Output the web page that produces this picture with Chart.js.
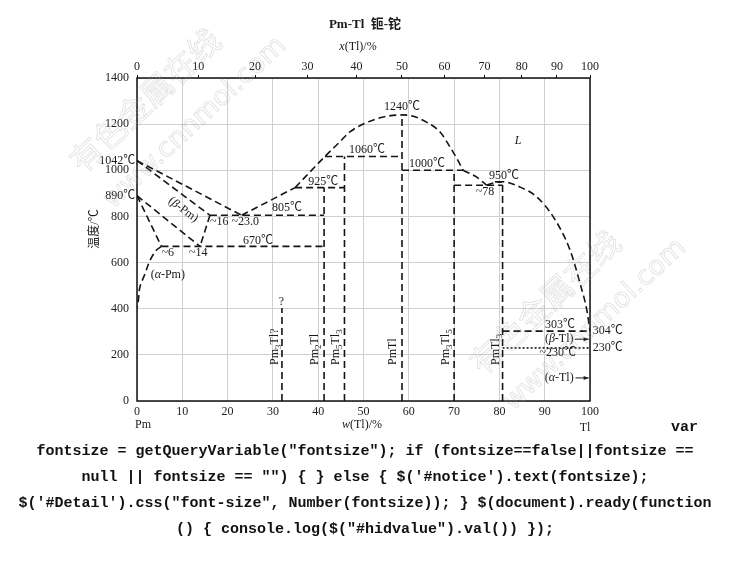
<!DOCTYPE html>
<html><head><meta charset="utf-8">
<script src="https://cdn.jsdelivr.net/npm/chart.js@4.4.1/dist/chart.umd.min.js"></script>
<style>
html,body{margin:0;padding:0;background:#fff}
body{width:730px;height:580px;position:relative;overflow:hidden}
#c{position:absolute;left:0;top:0}
.code{position:absolute;font:bold 15px 'Liberation Mono','DejaVu Sans Mono',monospace;color:#111;white-space:pre;line-height:26px}
#v{left:671px;top:415px}
#code{left:0;width:730px;top:439px;text-align:center}
</style></head><body>
<canvas id="c" width="730" height="440"></canvas>
<div class="code" id="v">var</div>
<div class="code" id="code">fontsize = getQueryVariable("fontsize"); if (fontsize==false||fontsize ==
null || fontsize == "") { } else { $('#notice').text(fontsize);
$('#Detail').css("font-size", Number(fontsize)); } $(document).ready(function
() { console.log($("#hidvalue").val()) });</div>
<script>
// ---- axes ----
const wTicks = [0,10,20,30,40,50,60,70,80,90,100];      // w(Tl)/%
const atTicks = [0,10,20,30,40,50,60,70,80,90,100];     // x(Tl)/%
const tTicks = [0,200,400,600,800,1000,1200,1400];      // °C
const massPm = 145, massTl = 204.38;
const atToW = a => 100*a*massTl/(a*massTl+(100-a)*massPm);

// ---- phase boundaries [w(Tl)%, T] ----
const liqPm      = [[0,1042],[23.1,805]];
const liqEut     = [[23.1,805],[34.9,925]];
const liqDome    = [[34.9,925],[41.5,1060],[44.4,1116],[47,1166],[50.7,1207],[54.4,1231],[58.5,1240],[61,1234],[63.9,1209],[66.9,1166],[69.1,1101],[70.6,1051],[72,1000]];
const liqMid     = [[72,1000],[75,970],[77.2,935]];
const liqTl      = [[77.2,935],[78.8,946],[80.8,950],[84.5,928],[88.2,885],[91.9,798],[95.6,654],[97.8,510],[99.3,394],[100,304]];
const betaSolidus= [[0,1042],[16.1,805]];
const betaSolvus = [[16.1,805],[13.9,670]];
const betaLow    = [[0,890],[13.9,670]];
const alphaHigh  = [[0,890],[5.4,670]];
const alphaSolvus= [[5.4,670],[4.3,654],[2.9,611],[1.8,553],[0.66,495],[0.3,437],[0,403]];
const iso805 = [[16.1,805],[41.3,805]];
const iso670 = [[5.4,670],[41.3,670]];
const iso925 = [[34.9,925],[45.8,925]];
const iso1060= [[41.5,1060],[58.5,1060]];
const iso1000= [[58.5,1000],[72,1000]];
const iso935 = [[70,935],[80.7,935]];
const cap950 = [[79,950],[80.7,950]];
const iso303 = [[80.7,303],[100,303]];
const iso230 = [[80.7,230],[100,230]];
const vPm3Tl  = [[32,0],[32,403]];
const vPm2Tl  = [[41.3,0],[41.3,925]];
const vPm5Tl3 = [[45.8,0],[45.8,1060]];
const vPmTl   = [[58.5,0],[58.5,1240]];
const vPm3Tl5 = [[70,0],[70,1000]];
const vPmTl3  = [[80.7,0],[80.7,950]];

// ---- annotations [text, w, T, align, rotation°] ----
const notes = [
 ['1042℃',-0.4,1042,'right',0],['890℃',-0.4,890,'right',0],
 ['(*β*-Pm)',10.2,829,'center',37],['~16 ~23.0',21.5,775,'center',0],
 ['805℃',33.1,836,'center',0],['670℃',26.7,693,'center',0],
 ['~6',6.8,641,'center',0],['~14',13.5,641,'center',0],['(*α*-Pm)',6.8,546,'center',0],
 ['925℃',41.1,948,'center',0],['1060℃',50.8,1087,'center',0],['1240℃',58.5,1273,'center',0],
 ['1000℃',64,1030,'center',0],['*L*',84.1,1126,'center',0],['950℃',81,974,'center',0],
 ['~78',76.8,905,'center',0],['?',31.9,429,'center',0],
 ['303℃',93.4,329,'center',0],['(*β*-Tl)',93.2,268,'center',0],['~230℃',92.9,208,'center',0],
 ['(*α*-Tl)',93.2,100,'center',0],['304℃',100.6,303,'left',0],['230℃',100.6,230,'left',0],
 ['Pm_3Tl?',30.5,156,'left',-90],['Pm_2Tl',39.3,156,'left',-90],['Pm_5Tl_3',43.9,156,'left',-90],
 ['PmTl',56.5,156,'left',-90],['Pm_3Tl_5',68.2,156,'left',-90],['PmTl_3',79.2,156,'left',-90]
];
const arrows = [[96.6,99.7,268],[96.8,99.7,100]];

const SERIF = "'Liberation Serif','Noto Sans CJK SC',serif";

function ds(pts, opt){
  return Object.assign({data:pts.map(p=>({x:p[0],y:p[1]})),showLine:true,pointRadius:0,
    borderColor:'#151515',backgroundColor:'#151515',borderWidth:1.6,borderDash:[7,4],tension:0,fill:false,
    xAxisID:'x',yAxisID:'y'}, opt||{});
}
const mono = {cubicInterpolationMode:'monotone'};
const datasets = [
  ds(liqPm), ds(liqEut), ds(liqDome,mono), ds(liqMid,mono), ds(liqTl,mono),
  ds(betaSolidus), ds(betaSolvus), ds(betaLow), ds(alphaHigh), ds(alphaSolvus,{tension:0.35}),
  ds(iso805), ds(iso670), ds(iso925), ds(iso1060), ds(iso1000), ds(iso935), ds(cap950), ds(iso303),
  ds(iso230,{borderDash:[2,2]}),
  ds(vPm3Tl), ds(vPm2Tl), ds(vPm5Tl3), ds(vPmTl), ds(vPm3Tl5), ds(vPmTl3)
];

function parseRich(s){const segs=[];let it=false;for(let i=0;i<s.length;i++){const c=s[i];
  if(c==='*'){it=!it;continue;} if(c==='_'){segs.push({t:s[++i],sub:true,it});continue;}
  segs.push({t:c,sub:false,it});}return segs;}
function fontOf(g,size,bold){return (g.it?'italic ':'')+(bold?'bold ':'')+(g.sub?Math.round(size*0.72):size)+'px '+SERIF;}
function drawRich(ctx,s,x,y,size,align,bold){
  const segs=parseRich(s);let w=0;
  segs.forEach(g=>{ctx.font=fontOf(g,size,bold);g.w=ctx.measureText(g.t).width;w+=g.w;});
  let cx=align==='center'?x-w/2:align==='right'?x-w:x;
  ctx.textAlign='left';ctx.textBaseline='middle';
  segs.forEach(g=>{ctx.font=fontOf(g,size,bold);ctx.fillText(g.t,cx,y+(g.sub?size*0.3:0));cx+=g.w;});
}

const deco = {
  id:'deco',
  afterDatasetsDraw(chart){
    const ctx=chart.ctx, a=chart.chartArea, X=chart.scales.x, Y=chart.scales.y;
    ctx.save();
    ctx.strokeStyle='#111';ctx.lineWidth=1.5;ctx.setLineDash([]);
    ctx.strokeRect(a.left,a.top,a.right-a.left,a.bottom-a.top);
    ctx.fillStyle='#1a1a1a';
    notes.forEach(n=>{
      const px=X.getPixelForValue(n[1]), py=Y.getPixelForValue(n[2]);
      if(n[4]){ctx.save();ctx.translate(px,py);ctx.rotate(n[4]*Math.PI/180);drawRich(ctx,n[0],0,0,12,n[3]);ctx.restore();}
      else drawRich(ctx,n[0],px,py,12,n[3]);
    });
    ctx.lineWidth=1;ctx.strokeStyle='#1a1a1a';
    arrows.forEach(r=>{
      const x1=X.getPixelForValue(r[0]),x2=X.getPixelForValue(r[1]),y=Y.getPixelForValue(r[2]);
      ctx.beginPath();ctx.moveTo(x1,y);ctx.lineTo(x2,y);ctx.stroke();
      ctx.beginPath();ctx.moveTo(x2,y);ctx.lineTo(x2-5,y-2);ctx.lineTo(x2-5,y+2);ctx.closePath();ctx.fill();
    });
    // titles
    drawRich(ctx,'Pm-Tl  钷-铊',365,25,13,'center',true);
    drawRich(ctx,'*x*(Tl)/%',358,47,12,'center');
    drawRich(ctx,'*w*(Tl)/%',362,425,12,'center');
    drawRich(ctx,'Pm',143,425,12,'center');
    drawRich(ctx,'Tl',585,428,12,'center');
    ctx.save();ctx.translate(95,229);ctx.rotate(-Math.PI/2);drawRich(ctx,'温度/℃',0,0,12,'center');ctx.restore();
    ctx.restore();
  },
  afterDraw(chart){
    const ctx=chart.ctx;
    const wm=(ox,oy)=>{
      ctx.save();ctx.translate(ox,oy);ctx.rotate(-43*Math.PI/180);
      ctx.strokeStyle='rgba(160,160,160,0.32)';ctx.lineWidth=0.8;ctx.textAlign='center';ctx.textBaseline='middle';
      ctx.font="32px 'Noto Sans CJK SC'";ctx.strokeText('有色金属在线',0,0);
      ctx.font="27px 'DejaVu Sans'";ctx.strokeText('www.cnnmol.com',21,51);
      ctx.restore();
    };
    wm(145,100); wm(545,302);
  }
};

const tickFont={family:SERIF,size:12};
const plain = v => String(v);
new Chart(document.getElementById('c'),{
  type:'scatter',
  data:{datasets},
  options:{
    responsive:false,animation:false,
    layout:{padding:{left:0,right:140,top:0,bottom:0}},
    plugins:{legend:{display:false},tooltip:{enabled:false},title:{display:false}},
    scales:{
      x:{type:'linear',position:'bottom',min:0,max:100,
        afterBuildTicks:s=>{s.ticks=wTicks.map(v=>({value:v}));},
        afterFit:s=>{s.height=39;},
        grid:{color:'#d0d0d0',lineWidth:1,drawTicks:false},border:{display:false},
        ticks:{padding:4,color:'#222',font:tickFont,maxRotation:0,autoSkip:false,callback:plain}},
      x2:{type:'linear',position:'top',min:0,max:100,
        afterBuildTicks:s=>{s.ticks=atTicks.map(a=>({value:atToW(a)}));},
        afterFit:s=>{s.height=78;},
        grid:{drawOnChartArea:false,drawTicks:true,tickLength:3,color:'#111'},border:{display:false},
        ticks:{padding:1,color:'#222',font:tickFont,maxRotation:0,autoSkip:false,callback:(v,i)=>String(atTicks[i])}},
      y:{type:'linear',position:'left',min:0,max:1400,
        afterBuildTicks:s=>{s.ticks=tTicks.map(v=>({value:v}));},
        afterFit:s=>{s.width=137;},
        grid:{color:'#d0d0d0',lineWidth:1,drawTicks:false},border:{display:false},
        ticks:{padding:8,color:'#222',font:tickFont,autoSkip:false,callback:plain}}
    }
  },
  plugins:[deco]
});
</script>
</body></html>
